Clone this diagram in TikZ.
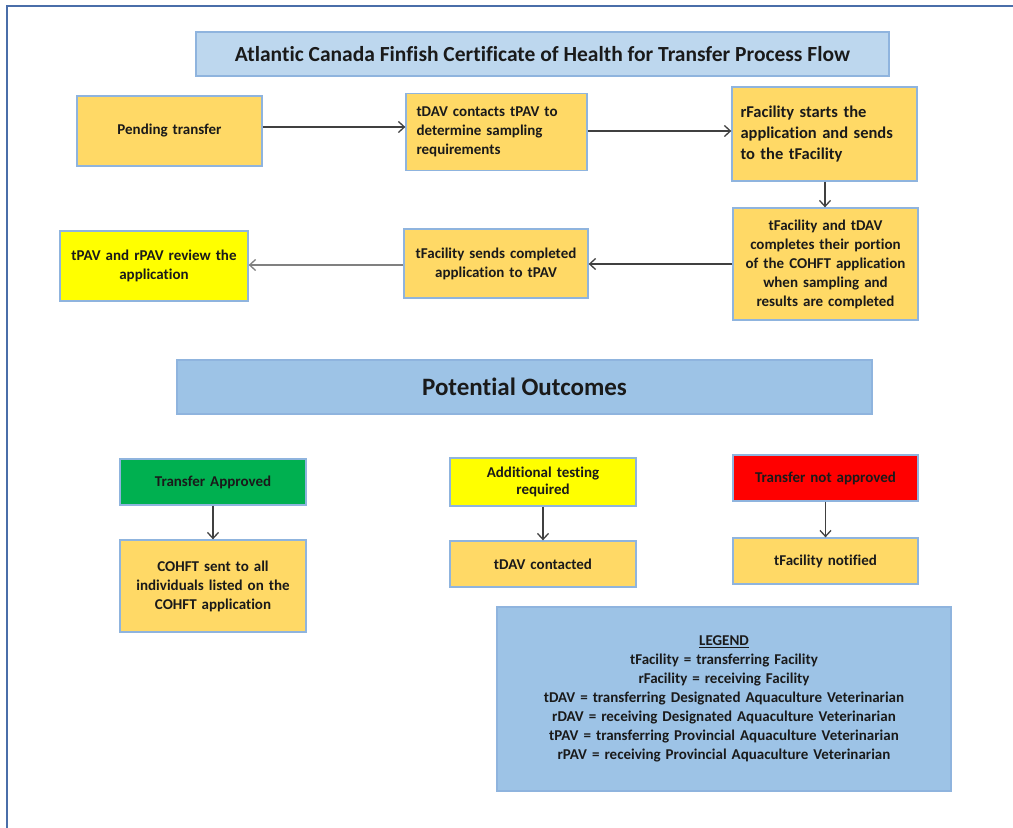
\documentclass[tikz,border=0pt]{standalone}
\usepackage{fontspec}
\setmainfont{Carlito}[Ligatures=CommonOff]
\usetikzlibrary{arrows.meta}

\definecolor{framec}{HTML}{4A6EA9}
\definecolor{boxedge}{HTML}{8FB4DE}
\definecolor{gold}{HTML}{FFD966}
\definecolor{titleblue}{HTML}{BDD7EE}
\definecolor{midblue}{HTML}{9DC3E6}
\definecolor{okgreen}{HTML}{00B050}
\definecolor{warnyellow}{HTML}{FFFF00}
\definecolor{stopred}{HTML}{FF0000}
\definecolor{arrowc}{HTML}{404040}
\definecolor{inkc}{HTML}{1A1A1A}

\tikzset{
  box/.style={draw=boxedge, line width=1.3pt, fill=gold, inner sep=3pt,
    text=inkc, font=\fontsize{15}{19}\selectfont\bfseries, align=center},
  banner/.style={draw=boxedge, line width=1.3pt, fill=titleblue, inner sep=0pt,
    text=inkc, align=center},
  flow/.style={draw=arrowc, line width=1.4pt, -{Straight Barb[length=6pt,width=11pt,line width=1.3pt]}},
}

\begin{document}
\begin{tikzpicture}[x=1pt,y=-1pt]
  \useasboundingbox (0,0) rectangle (1013,828);

  % page frame
  \draw[framec, line width=2pt] (1013,6) -- (7,6) -- (7,828);

  % title
  \node[banner, minimum width=693pt, minimum height=44pt,
    font=\fontsize{21.5}{25}\selectfont\bfseries] (title) at (542.5,54)
    {Atlantic Canada Finfish Certificate of Health for Transfer Process Flow};

  % process steps
  \node[box, minimum width=185pt, minimum height=70pt, text width=175pt] (pend) at (169.5,131)
    {Pending transfer};
  \node[box, minimum width=181pt, minimum height=77pt, text width=160pt, align=left] (tdav) at (496.5,132)
    {tDAV contacts tPAV to\\determine sampling\\requirements};
  \node[box, minimum width=185pt, minimum height=94pt, text width=168pt, align=left,
    font=\fontsize{16.5}{21}\selectfont\bfseries] (rfac) at (824.5,134)
    {rFacility starts the\\application and sends\\to the tFacility};
  \node[box, minimum width=185pt, minimum height=112pt, text width=177pt] (tfd) at (825.5,264)
    {tFacility and tDAV\\completes their portion\\of the COHFT application\\when sampling and\\results are completed};
  \node[box, minimum width=184pt, minimum height=69pt, text width=176pt] (tfs) at (496,263.5)
    {tFacility sends completed\\application to tPAV};
  \node[box, fill=warnyellow, minimum width=188pt, minimum height=70pt, text width=180pt] (rev) at (154,266)
    {tPAV and rPAV review the\\application};

  \draw[flow] (pend.east |- 0,127) -- (tdav.west |- 0,127);
  \draw[flow] (tdav.east |- 0,131) -- (rfac.west |- 0,131);
  \draw[flow] (rfac.south -| 825,0) -- (tfd.north -| 825,0);
  \draw[flow] (tfd.west) -- (tfd.west -| tfs.east);
  \draw[flow, draw=gray] (tfs.west |- 0,265) -- (rev.east |- 0,265);

  % outcomes banner
  \node[banner, fill=midblue, minimum width=695pt, minimum height=54pt,
    font=\fontsize{25}{29}\selectfont\bfseries] (outc) at (524.5,387)
    {Potential Outcomes};

  % outcome branches
  \node[box, fill=okgreen, minimum width=186pt, minimum height=46pt, text width=176pt] (appr) at (213,482)
    {Transfer Approved};
  \node[box, minimum width=186pt, minimum height=92pt, text width=176pt] (sent) at (213,586)
    {COHFT sent to all\\individuals listed on the\\COHFT application};
  \node[box, fill=warnyellow, minimum width=186pt, minimum height=48pt, text width=176pt,
    font=\fontsize{15}{17}\selectfont\bfseries] (addt) at (543,482)
    {Additional testing\\required};
  \node[box, minimum width=186pt, minimum height=46pt, text width=176pt] (cont) at (543,564)
    {tDAV contacted};
  \node[box, fill=stopred, minimum width=185pt, minimum height=46pt, text width=175pt] (nota) at (825.5,478)
    {Transfer not approved};
  \node[box, minimum width=185pt, minimum height=46pt, text width=175pt] (noti) at (825.5,561)
    {tFacility notified};

  \draw[flow] (appr) -- (sent);
  \draw[flow] (addt) -- (cont);
  \draw[flow] (nota) -- (noti);

  % legend
  \node[box, fill=midblue, minimum width=454pt, minimum height=184pt, text width=444pt,
    font=\fontsize{15}{19}\selectfont\bfseries] (legend) at (724,699)
    {\underline{LEGEND}\\
     tFacility = transferring Facility\\
     rFacility = receiving Facility\\
     tDAV = transferring Designated Aquaculture Veterinarian\\
     rDAV = receiving Designated Aquaculture Veterinarian\\
     tPAV = transferring Provincial Aquaculture Veterinarian\\
     rPAV = receiving Provincial Aquaculture Veterinarian};
\end{tikzpicture}
\end{document}
